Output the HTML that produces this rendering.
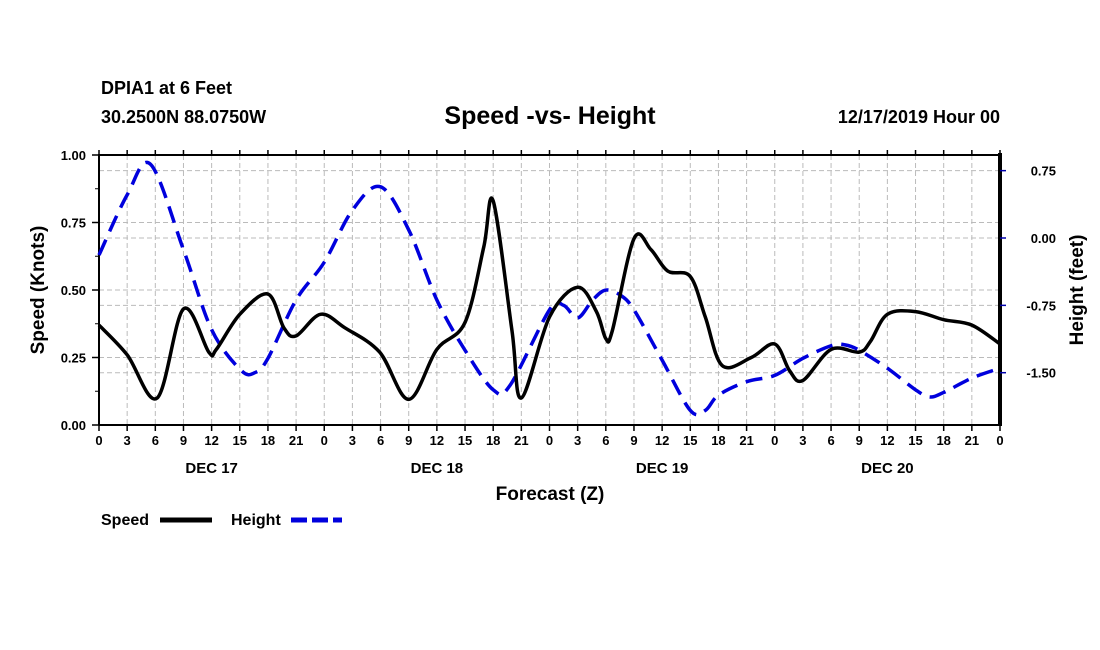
<!DOCTYPE html>
<html><head><meta charset="utf-8"><style>
body{margin:0;background:#fff;}
svg{display:block;font-family:"Liberation Sans",Arial,sans-serif;font-weight:bold;}
</style></head><body>
<svg id="chart" width="1100" height="650" viewBox="0 0 1100 650">
<text x="101" y="94" font-size="18">DPIA1 at 6 Feet</text>
<text x="101" y="123" font-size="18">30.2500N 88.0750W</text>
<text x="550" y="124" font-size="25" text-anchor="middle">Speed -vs- Height</text>
<text x="1000" y="123" font-size="18" text-anchor="end">12/17/2019 Hour 00</text>
<g id="grid"></g>
<g id="axes"></g>
<g id="series"></g>
<text x="550" y="500" font-size="19" text-anchor="middle">Forecast (Z)</text>
<text transform="translate(44,290) rotate(-90)" font-size="19" text-anchor="middle">Speed (Knots)</text>
<text transform="translate(1083,290) rotate(-90)" font-size="19" text-anchor="middle">Height (feet)</text>
<g>
<text x="101" y="525" font-size="16">Speed</text>
<line x1="160" y1="520" x2="212" y2="520" stroke="#000" stroke-width="5"/>
<text x="231" y="525" font-size="16">Height</text>
<line x1="291" y1="520" x2="342" y2="520" stroke="#0000dd" stroke-width="5" stroke-dasharray="16 5"/>
</g>
</svg>
<script>
const speedHours=[0,3,6.2,9,11.7,12.5,15,18,19.7,21,23.6,26.2,29.9,33,36,39,41,42,44,45,48,51,53,54,54.7,57,58.8,60.6,63,64.6,66.4,69.5,72,73.6,75,78,81,82.2,84,87,90,93,96];
const speedValues=[0.37,0.26,0.10,0.43,0.27,0.28,0.41,0.485,0.36,0.33,0.41,0.36,0.27,0.095,0.28,0.38,0.66,0.83,0.35,0.10,0.40,0.51,0.42,0.32,0.35,0.69,0.65,0.57,0.55,0.40,0.22,0.25,0.30,0.20,0.165,0.28,0.27,0.31,0.41,0.42,0.39,0.37,0.30];
const heightHours=[0,3,5.5,9,12,15.1,16.6,18,21,24,27,30,33,36,39,42,43.8,48,49.5,51,52.6,54,55.6,57,60,63,64.6,66,69,72,75,78,79.5,81,84,87,88.5,90,93,96];
const heightValues=[-0.19,0.48,0.82,-0.13,-1.02,-1.47,-1.50,-1.34,-0.69,-0.27,0.31,0.57,0.09,-0.69,-1.25,-1.69,-1.64,-0.80,-0.75,-0.89,-0.69,-0.58,-0.64,-0.80,-1.36,-1.92,-1.92,-1.75,-1.60,-1.53,-1.34,-1.20,-1.19,-1.25,-1.45,-1.69,-1.77,-1.72,-1.56,-1.45];
const speedTicks=[0,0.25,0.5,0.75,1.0];
const heightTicks=[0.75,0,-0.75,-1.5];
const hourLabels=["0","3","6","9","12","15","18","21"];
const dayLabels=["DEC 17","DEC 18","DEC 19","DEC 20"];

const X0=99,X1=1000,YT=155,YB=425;
const xs=h=>X0+(X1-X0)*h/96;
const ys=v=>YB-(YB-YT)*v;
const yh=v=>238-v*89.8;
const NS="http://www.w3.org/2000/svg";
function mk(tag,attrs,parent){const e=document.createElementNS(NS,tag);for(const k in attrs)e.setAttribute(k,attrs[k]);parent.appendChild(e);return e;}
const grid=document.getElementById('grid'),axes=document.getElementById('axes'),series=document.getElementById('series');
for(let h=3;h<96;h+=3){const l=mk('line',{x1:xs(h),x2:xs(h),y1:YT,y2:YB,stroke:'#bbb','stroke-width':1,'stroke-dasharray':'5 3'},grid);

}
speedTicks.forEach(v=>{if(v>0&&v<1){const l=mk('line',{x1:X0,x2:X1,y1:ys(v),y2:ys(v),stroke:'#bbb','stroke-width':1,'stroke-dasharray':'5 3'},grid);

}});
heightTicks.forEach(v=>{const l=mk('line',{x1:X0,x2:X1,y1:yh(v),y2:yh(v),stroke:'#bbb','stroke-width':1,'stroke-dasharray':'5 3'},grid);

});
const fr=mk('path',{d:`M${X0},${YB}V${YT}H${X1}`,fill:'none',stroke:'#000','stroke-width':2},axes);


const xb=mk('line',{x1:X0,x2:X1,y1:YB,y2:YB,stroke:'#000','stroke-width':2},axes);


const rb=mk('line',{x1:X1,x2:X1,y1:YT-2,y2:YB+1,stroke:'#000','stroke-width':4},axes);


for(let h=0;h<=96;h+=3){const x=xs(h);
mk('line',{x1:x,x2:x,y1:YB,y2:YB+6,stroke:'#000','stroke-width':1.5},axes);
mk('line',{x1:x,x2:x,y1:YT,y2:YT-5,stroke:'#000','stroke-width':1.5},axes);
const t=mk('text',{x:x,y:YB+20,'font-size':13,'text-anchor':'middle'},axes);t.textContent=hourLabels[(h/3)%8];

}
dayLabels.forEach((d,i)=>{const t=mk('text',{x:xs(12+24*i),y:473,'font-size':15,'text-anchor':'middle'},axes);t.textContent=d;

});
speedTicks.forEach(v=>{mk('line',{x1:X0-7,x2:X0,y1:ys(v),y2:ys(v),stroke:'#000','stroke-width':1.5},axes);
const t=mk('text',{x:X0-13,y:ys(v)+5,'font-size':13,'text-anchor':'end'},axes);t.textContent=v.toFixed(2);

});
for(let v=0.125;v<1;v+=0.25)mk('line',{x1:X0-4,x2:X0,y1:ys(v),y2:ys(v),stroke:'#000','stroke-width':1},axes);
heightTicks.forEach(v=>{mk('line',{x1:X1,x2:X1+6,y1:yh(v),y2:yh(v),stroke:'#00a','stroke-width':1.5},axes);
const t=mk('text',{x:X1+56,y:yh(v)+5,'font-size':13,'text-anchor':'end'},axes);t.textContent=v.toFixed(2);

});
function smooth(px){let d=`M${px[0][0]},${px[0][1]}`;for(let i=0;i<px.length-1;i++){const p0=px[Math.max(0,i-1)],p1=px[i],p2=px[i+1],p3=px[Math.min(px.length-1,i+2)];
const c1=[p1[0]+(p2[0]-p0[0])/6,p1[1]+(p2[1]-p0[1])/6],c2=[p2[0]-(p3[0]-p1[0])/6,p2[1]-(p3[1]-p1[1])/6];
d+=`C${c1[0]},${c1[1]} ${c2[0]},${c2[1]} ${p2[0]},${p2[1]}`;}return d;}
const hp=mk('path',{d:smooth(heightHours.map((h,i)=>[xs(h),yh(heightValues[i])])),fill:'none',stroke:'#0000dd','stroke-width':3.5,'stroke-dasharray':'17 9'},series);


const sp=mk('path',{d:smooth(speedHours.map((h,i)=>[xs(h),ys(speedValues[i])])),fill:'none',stroke:'#000','stroke-width':3.5,'stroke-linejoin':'round'},series);


</script>
</body></html>
